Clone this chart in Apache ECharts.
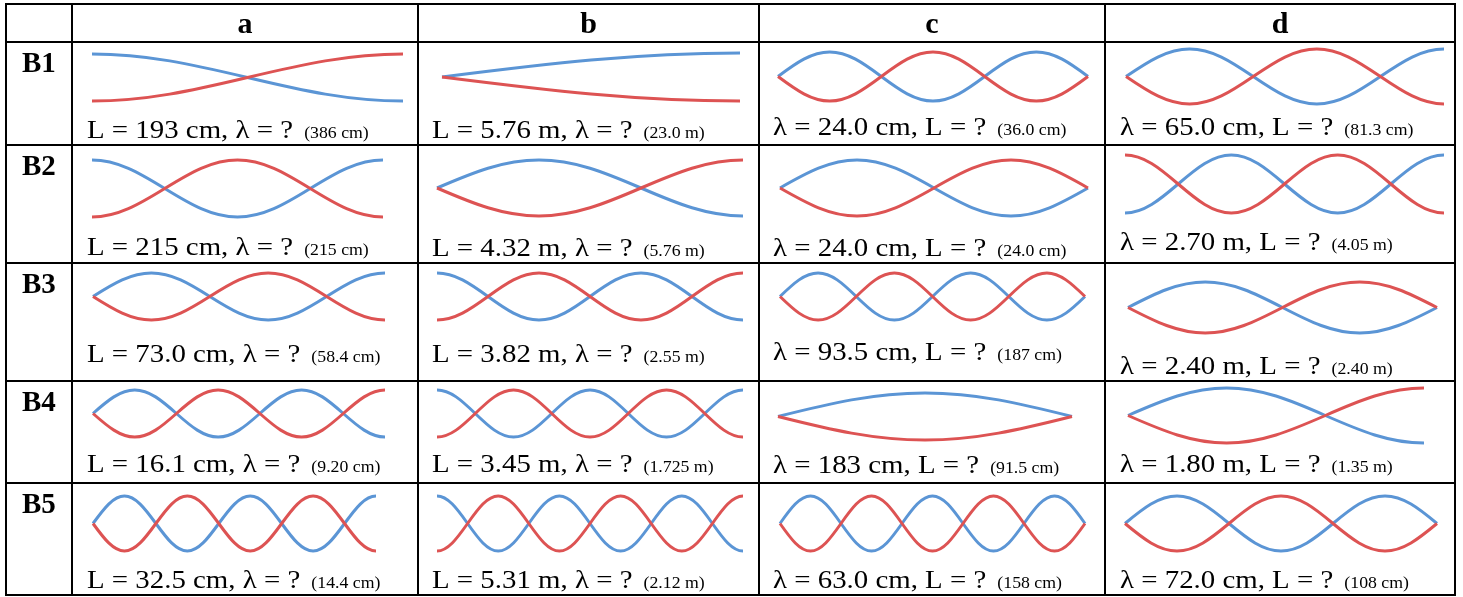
<!DOCTYPE html>
<html><head><meta charset="utf-8">
<script src="https://cdn.jsdelivr.net/npm/echarts@6/dist/echarts.min.js"></script>
<style>html,body{margin:0;padding:0;background:#fff}#c{width:1463px;height:597px}</style>
</head><body><div id="c"></div>
<script>
// ---------- data ----------
const rowLabels = ['B1', 'B2', 'B3', 'B4', 'B5'];
const colLabels = ['a', 'b', 'c', 'd'];
// blue string displacement at every quarter wavelength (0 = node, ±1 = antinode); red is its mirror image
const waveB1 = [[1, 0, -1], [0, 1], [0, 1, 0, -1, 0, 1, 0], [0, 1, 0, -1, 0, 1]];
const waveB2 = [[1, 0, -1, 0, 1], [0, 1, 0, -1], [0, 1, 0, -1, 0], [-1, 0, 1, 0, -1, 0, 1]];
const waveB3 = [[0, 1, 0, -1, 0, 1], [1, 0, -1, 0, 1, 0, -1], [0, 1, 0, -1, 0, 1, 0, -1, 0], [0, 1, 0, -1, 0]];
const waveB4 = [[0, 1, 0, -1, 0, 1, 0, -1], [1, 0, -1, 0, 1, 0, -1, 0, 1], [0, 1, 0], [0, 1, 0, -1]];
const waveB5 = [[0, 1, 0, -1, 0, 1, 0, -1, 0, 1], [1, 0, -1, 0, 1, 0, -1, 0, 1, 0, -1], [0, 1, 0, -1, 0, 1, 0, -1, 0, 1, 0], [0, 1, 0, -1, 0, 1, 0]];
const givenB1 = ['L = 193 cm, λ = ?', 'L = 5.76 m, λ = ?', 'λ = 24.0 cm, L = ?', 'λ = 65.0 cm, L = ?'];
const givenB2 = ['L = 215 cm, λ = ?', 'L = 4.32 m, λ = ?', 'λ = 24.0 cm, L = ?', 'λ = 2.70 m, L = ?'];
const givenB3 = ['L = 73.0 cm, λ = ?', 'L = 3.82 m, λ = ?', 'λ = 93.5 cm, L = ?', 'λ = 2.40 m, L = ?'];
const givenB4 = ['L = 16.1 cm, λ = ?', 'L = 3.45 m, λ = ?', 'λ = 183 cm, L = ?', 'λ = 1.80 m, L = ?'];
const givenB5 = ['L = 32.5 cm, λ = ?', 'L = 5.31 m, λ = ?', 'λ = 63.0 cm, L = ?', 'λ = 72.0 cm, L = ?'];
const answerB1 = ['(386 cm)', '(23.0 m)', '(36.0 cm)', '(81.3 cm)'];
const answerB2 = ['(215 cm)', '(5.76 m)', '(24.0 cm)', '(4.05 m)'];
const answerB3 = ['(58.4 cm)', '(2.55 m)', '(187 cm)', '(2.40 m)'];
const answerB4 = ['(9.20 cm)', '(1.725 m)', '(91.5 cm)', '(1.35 m)'];
const answerB5 = ['(14.4 cm)', '(2.12 m)', '(158 cm)', '(108 cm)'];

// ---------- layout ----------
const waves = [waveB1, waveB2, waveB3, waveB4, waveB5];
const givens = [givenB1, givenB2, givenB3, givenB4, givenB5];
const answers = [answerB1, answerB2, answerB3, answerB4, answerB5];
const colX = [6, 72, 418, 759, 1105, 1455];
const rowY = [4, 42, 145, 263, 381, 483, 595];
// wave boxes [x0, x1, yTop, yBottom]
const boxes = [
  [[92, 403, 54, 101], [442, 740, 53, 101], [778, 1088, 52, 101], [1126, 1444, 49, 104]],
  [[92, 383, 160, 217], [437, 743, 160, 216], [780, 1088, 160, 216], [1125, 1444, 155, 213]],
  [[93, 385, 273, 320], [437, 743, 273, 320], [780, 1085, 273, 320], [1128, 1437, 282, 333]],
  [[93, 385, 390, 437], [437, 743, 390, 437], [778, 1072, 393, 440], [1128, 1424, 388, 443]],
  [[93, 376, 496, 551], [437, 743, 496, 551], [780, 1085, 496, 551], [1125, 1437, 496, 551]]
];
const textLeft = [87, 432, 773, 1120];
const textBase = [[138, 138, 135, 135], [255, 256, 256, 250], [362, 362, 360, 374], [472, 472, 473, 472], [588, 588, 588, 588]];
const BLUE = '#5b95d5', RED = '#dd5353';
const SERIF = '"Liberation Serif", "Times New Roman", serif';

// one string drawn through the cartesian axes: each quarter wave is a cubic arc node<->antinode
function stringRenderer(pts, color) {
  const K1 = 0.3516, K2 = 0.5523;
  return function (params, api) {
    if (params.dataIndex !== 0) return;
    let p0 = api.coord(pts[0]);
    let d = 'M' + p0[0] + ' ' + p0[1];
    for (let i = 1; i < pts.length; i++) {
      const p1 = api.coord(pts[i]);
      const dx = p1[0] - p0[0], dy = p1[1] - p0[1];
      let c1, c2;
      if (pts[i - 1][1] === 0) { // node -> antinode
        c1 = [p0[0] + K1 * dx, p0[1] + K2 * dy];
        c2 = [p0[0] + (1 - K1) * dx, p1[1]];
      } else {                   // antinode -> node
        c1 = [p0[0] + K1 * dx, p0[1]];
        c2 = [p0[0] + (1 - K1) * dx, p1[1] - K2 * dy];
      }
      d += ' C' + c1[0] + ' ' + c1[1] + ' ' + c2[0] + ' ' + c2[1] + ' ' + p1[0] + ' ' + p1[1];
      p0 = p1;
    }
    return { type: 'path', shape: { pathData: d }, style: { stroke: color, lineWidth: 3, fill: 'none' }, silent: true };
  };
}

const grid = [], xAxis = [], yAxis = [], series = [], elements = [];
let gi = 0;
for (let r = 0; r < 5; r++) {
  for (let c = 0; c < 4; c++) {
    const v = waves[r][c];
    const n = v.length - 1;
    const b = boxes[r][c];
    grid.push({ left: b[0], top: b[2], width: b[1] - b[0], height: b[3] - b[2] });
    xAxis.push({ gridIndex: gi, type: 'value', min: 0, max: n, show: false });
    yAxis.push({ gridIndex: gi, type: 'value', min: -1, max: 1, show: false });
    const bluePts = v.map((y, i) => [i, y]);
    const redPts = v.map((y, i) => [i, -y]);
    series.push({ type: 'custom', coordinateSystem: 'cartesian2d', xAxisIndex: gi, yAxisIndex: gi, silent: true, data: bluePts, renderItem: stringRenderer(bluePts, BLUE) });
    series.push({ type: 'custom', coordinateSystem: 'cartesian2d', xAxisIndex: gi, yAxisIndex: gi, silent: true, data: redPts, renderItem: stringRenderer(redPts, RED) });
    elements.push({
      type: 'text', x: textLeft[c], y: textBase[r][c] + 6, scaleX: 1.11, silent: true,
      style: {
        text: '{m|' + givens[r][c] + '}{s|' + answers[r][c] + '}',
        align: 'left', verticalAlign: 'bottom',
        rich: {
          m: { fontFamily: SERIF, fontSize: 26, fill: '#000', color: '#000', verticalAlign: 'bottom' },
          s: { fontFamily: SERIF, fontSize: 16, fill: '#000', color: '#000', verticalAlign: 'bottom', padding: [0, 0, 2, 10] }
        }
      }
    });
    gi++;
  }
}
// table lines
for (const x of colX) elements.push({ type: 'line', silent: true, shape: { x1: x, y1: rowY[0] - 1, x2: x, y2: rowY[6] + 1 }, style: { stroke: '#000', lineWidth: 2 } });
for (const y of rowY) elements.push({ type: 'line', silent: true, shape: { x1: colX[0] - 1, y1: y, x2: colX[5] + 1, y2: y }, style: { stroke: '#000', lineWidth: 2 } });
// header letters
colLabels.forEach((t, i) => elements.push({
  type: 'text', x: (colX[i + 1] + colX[i + 2]) / 2, y: 25, silent: true,
  style: { text: t, fontFamily: SERIF, fontSize: 30, fontWeight: 'bold', fill: '#000', align: 'center', verticalAlign: 'middle' }
}));
// row labels
rowLabels.forEach((t, i) => elements.push({
  type: 'text', x: 22, y: rowY[i + 1] + 23, silent: true,
  style: { text: t, fontFamily: SERIF, fontSize: 29, fontWeight: 'bold', fill: '#000', align: 'left', verticalAlign: 'middle' }
}));

const chart = echarts.init(document.getElementById('c'), null, { renderer: 'canvas' });
chart.setOption({
  animation: false,
  backgroundColor: '#fff',
  grid, xAxis, yAxis, series,
  graphic: { elements }
});
</script></body></html>
